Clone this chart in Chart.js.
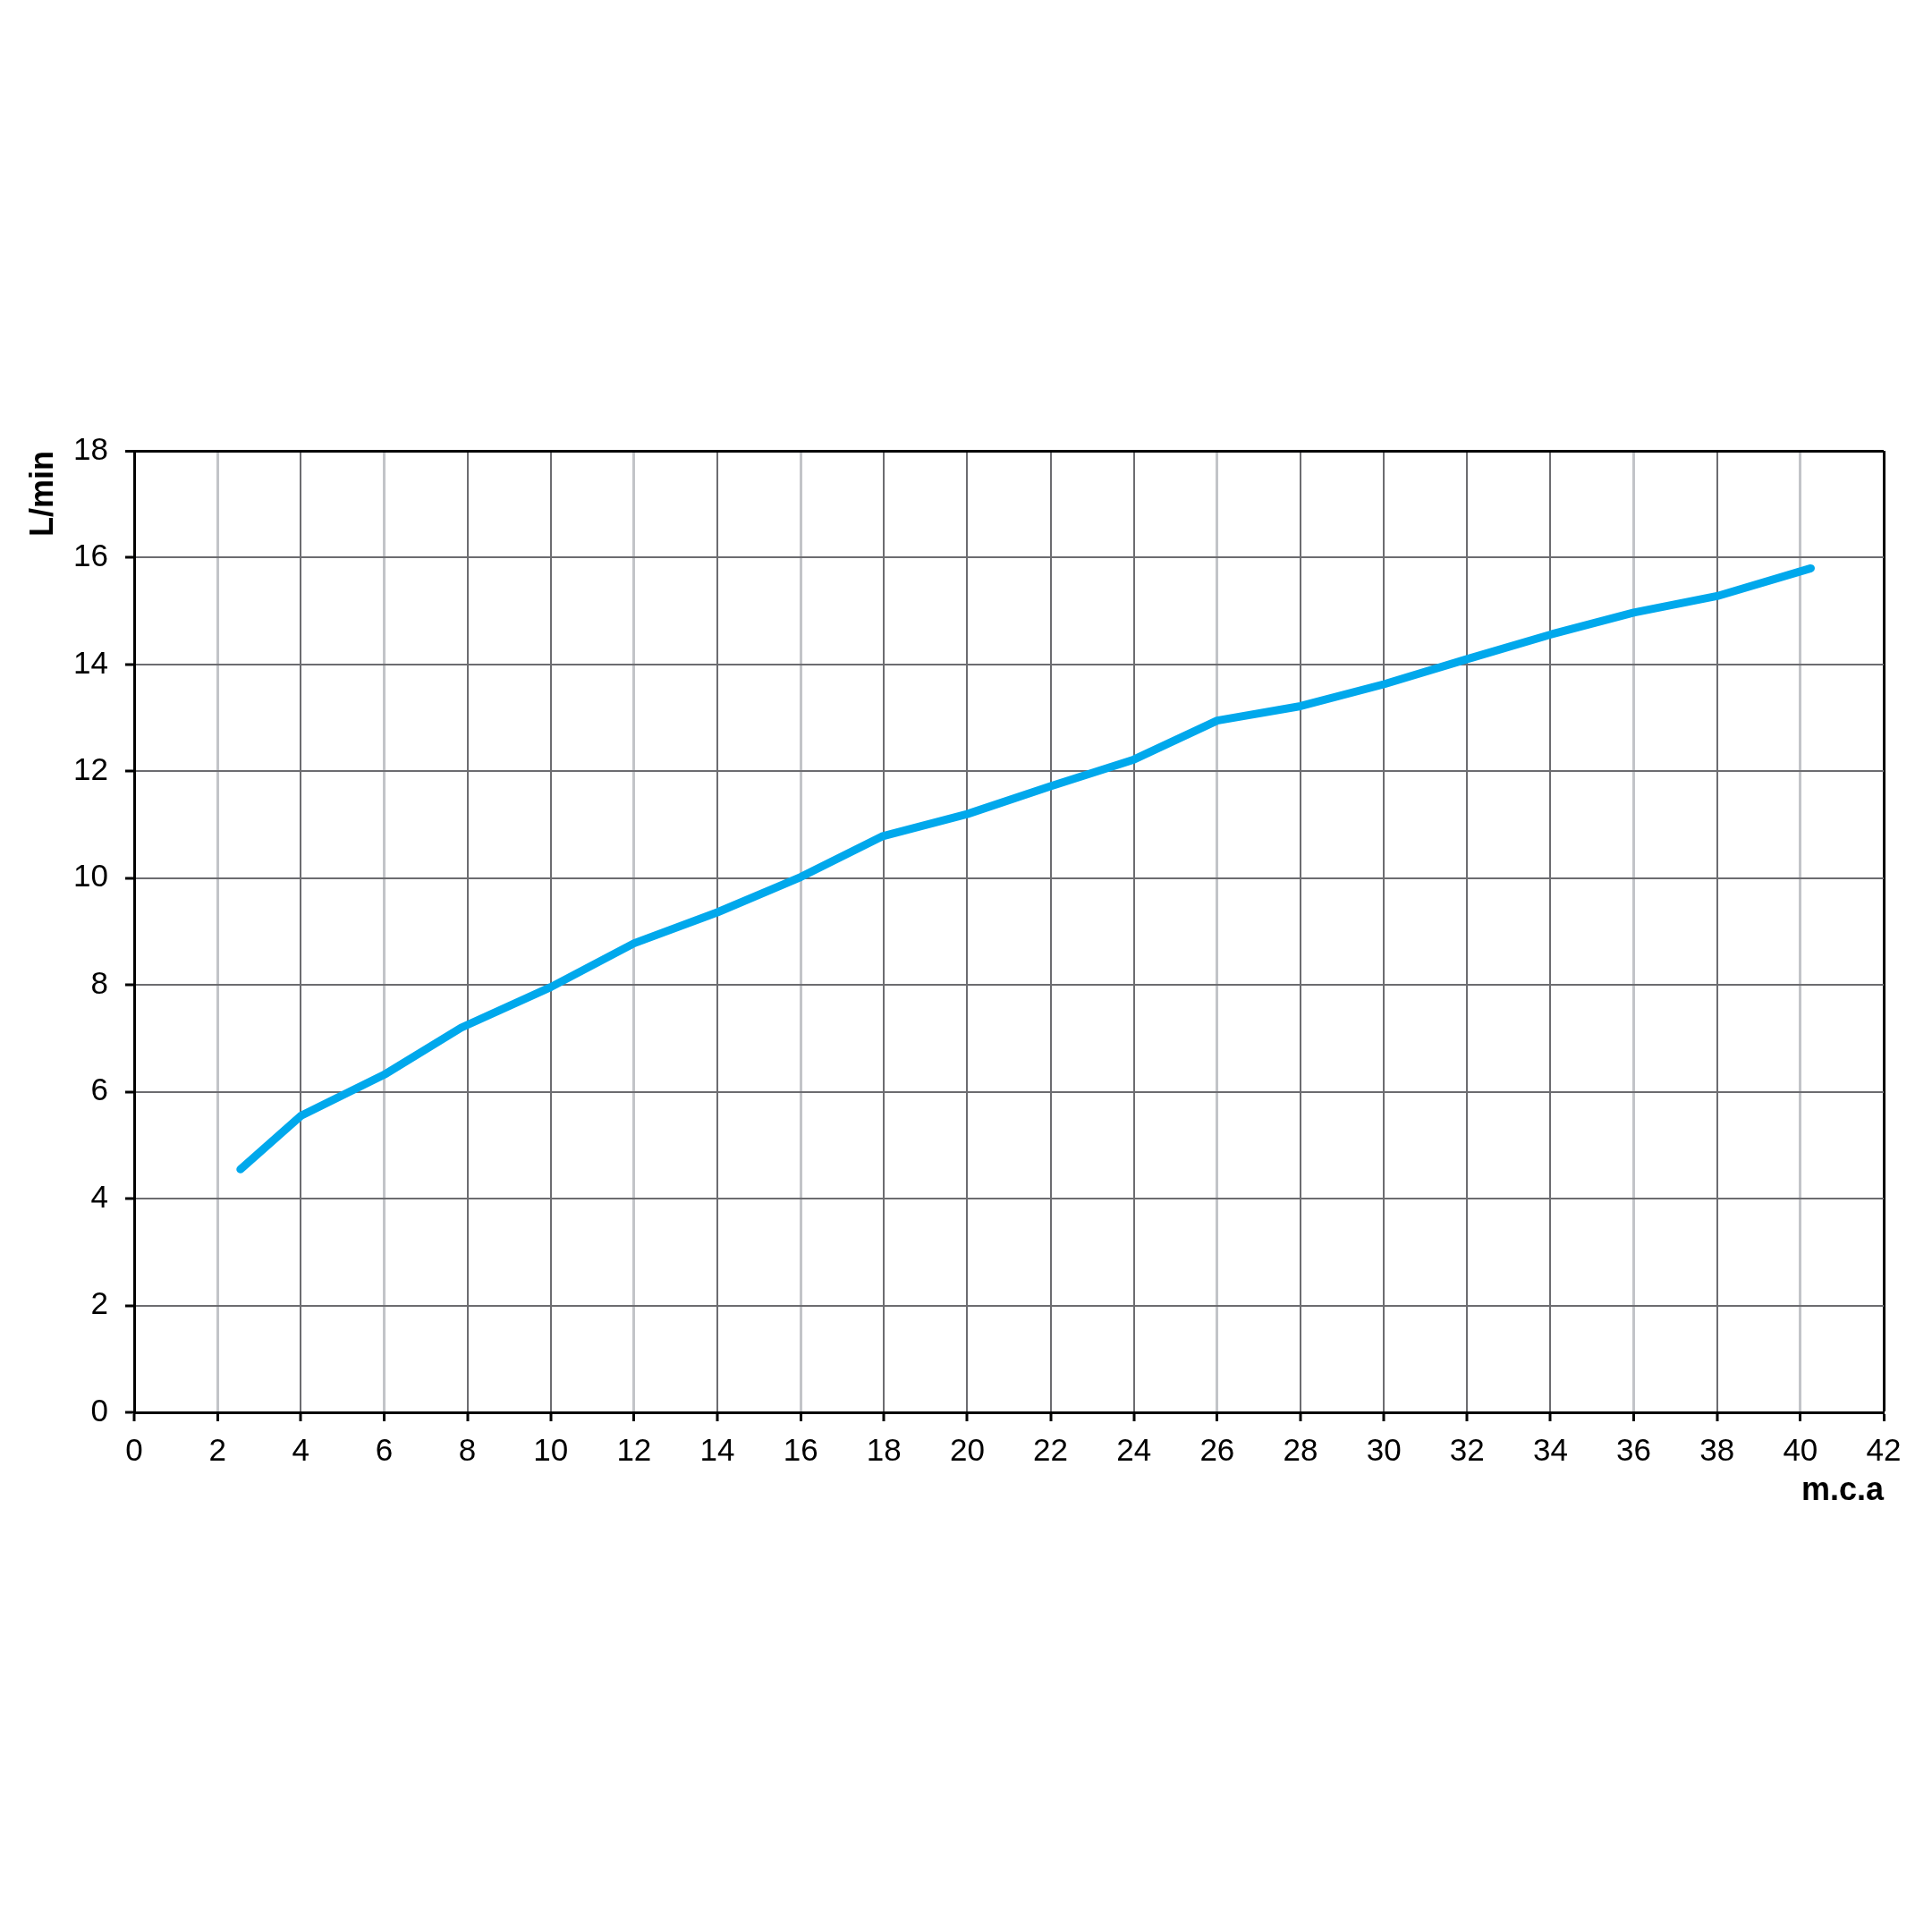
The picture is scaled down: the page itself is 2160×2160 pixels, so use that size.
<!DOCTYPE html>
<html>
<head>
<meta charset="utf-8">
<script src="https://cdn.jsdelivr.net/npm/chart.js@4"></script>
<style>
  html, body { margin: 0; padding: 0; background: #fff; }
  canvas { display: block; }
</style>
</head>
<body>
<canvas id="c" width="2160" height="2160"></canvas>
<script>
// Data
const pressure = [2.55, 4, 6, 7.85, 10, 12, 14, 16, 17.95, 20, 22, 24, 26, 28, 30, 32, 34, 36, 38, 40.25]; // m.c.a
const flow     = [4.55, 5.55, 6.32, 7.2, 7.96, 8.78, 9.36, 10.02, 10.78, 11.2, 11.72, 12.22, 12.95, 13.22, 13.63, 14.1, 14.56, 14.97, 15.28, 15.8]; // L/min
const xTitle = 'm.c.a';
const yTitle = 'L/min';
const lightX = [2, 6, 12, 16, 26, 36, 40];

const FONT = "'Liberation Sans', Arial, sans-serif";

const points = pressure.map((x, i) => ({ x: x, y: flow[i] }));

new Chart(document.getElementById('c'), {
  type: 'line',
  data: {
    datasets: [{
      data: points,
      borderColor: '#00A8EC',
      borderWidth: 9,
      borderCapStyle: 'round',
      borderJoinStyle: 'round',
      pointRadius: 0,
      tension: 0,
      fill: false
    }]
  },
  options: {
    responsive: false,
    animation: false,
    devicePixelRatio: 1,
    layout: { padding: { left: 0, right: 54, top: 504, bottom: 461 } },
    plugins: { legend: { display: false }, tooltip: { enabled: false } },
    scales: {
      x: {
        type: 'linear',
        min: 0, max: 42,
        afterFit: s => { s.height = 120; },
        ticks: { stepSize: 2, color: '#000', padding: 13, maxRotation: 0, autoSkip: false,
                 font: { family: FONT, size: 35 } },
        grid: {
          color: ctx => ctx.tick && ctx.tick.value === 42 ? '#000' :
                        (ctx.tick && lightX.includes(ctx.tick.value) ? '#c2c4c8' : '#6c6c70'),
          lineWidth: ctx => ctx.tick && ctx.tick.value === 42 ? 3 :
                        (ctx.tick && lightX.includes(ctx.tick.value) ? 3 : 2),
          tickColor: '#000', tickWidth: 3, tickLength: 10
        },
        border: { color: '#000', width: 3 },
        title: { display: true, text: xTitle, align: 'end', color: '#000',
                 font: { family: FONT, size: 36, weight: 'bold' }, padding: { top: 0, bottom: 10 } }
      },
      y: {
        type: 'linear',
        min: 0, max: 18,
        afterFit: s => { s.width = 150; },
        ticks: { stepSize: 2, color: '#000', padding: 19,
                 font: { family: FONT, size: 35 } },
        grid: {
          color: ctx => ctx.tick && ctx.tick.value === 18 ? '#000' : '#6c6c70',
          lineWidth: ctx => ctx.tick && ctx.tick.value === 18 ? 3 : 2,
          tickColor: '#000', tickWidth: 3, tickLength: 10
        },
        border: { color: '#000', width: 3 },
        title: { display: true, text: yTitle, align: 'end', color: '#000',
                 font: { family: FONT, size: 36, weight: 'bold' }, padding: { top: 27, bottom: 0 } }
      }
    }
  }
});
</script>
</body>
</html>
